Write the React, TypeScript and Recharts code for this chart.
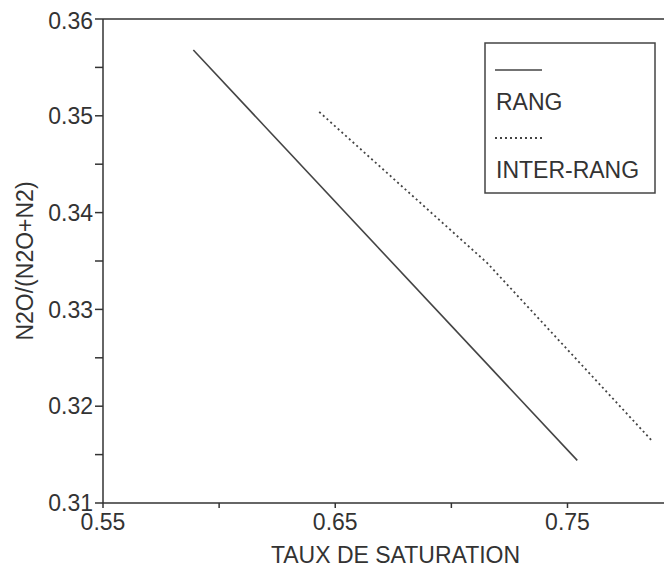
import { LineChart, Line, XAxis, YAxis, ReferenceLine, Legend } from "recharts";

const rang = [
  { x: 0.5889, y: 0.3568 },
  { x: 0.7542, y: 0.3144 },
];

const interRang = [
  { x: 0.6431, y: 0.3504 },
  { x: 0.7154, y: 0.3348 },
  { x: 0.7861, y: 0.3165 },
];

const xTicks = [0.55, 0.6, 0.65, 0.7, 0.75];
const xLabels = ["0.55", "0.65", "0.75"];
const yTicks = [0.31, 0.315, 0.32, 0.325, 0.33, 0.335, 0.34, 0.345, 0.35, 0.355, 0.36];
const yLabels = ["0.31", "0.32", "0.33", "0.34", "0.35", "0.36"];

const FONT = "'Liberation Sans', Arial, sans-serif";
const INK = "#333";
const LINE = "#444";

const fmtX = (v: number) => {
  const s = v.toFixed(2);
  return xLabels.includes(s) ? s : "";
};
const fmtY = (v: number) => {
  const s = v.toFixed(3).replace(/0$/, "");
  return yLabels.includes(s) ? s : "";
};

const LegendBox = () => (
  <svg width={172} height={152} style={{ display: "block" }}>
    <rect x={1} y={1} width={170} height={150} fill="#fff" stroke={LINE} strokeWidth={1.5} />
    <line x1={11} x2={58} y1={28} y2={28} stroke={LINE} strokeWidth={1.5} />
    <text x={12} y={68} fontSize={23} fill={INK} fontFamily={FONT}>RANG</text>
    <line x1={11} x2={58} y1={96} y2={96} stroke={LINE} strokeWidth={1.8} strokeDasharray="2 3" />
    <text x={12} y={136} fontSize={23} fill={INK} fontFamily={FONT}>INTER-RANG</text>
  </svg>
);

export default function App() {
  return (
    <LineChart width={664} height={559} margin={{ top: 11, right: 0, left: 0, bottom: 0 }}>
      <XAxis
        type="number"
        dataKey="x"
        domain={[0.55, 0.795]}
        ticks={xTicks}
        tickFormatter={fmtX}
        allowDataOverflow
        height={64}
        tickSize={5}
        tickMargin={6}
        stroke={INK}
        strokeWidth={1.5}
        tick={{ fill: INK, fontSize: 23, fontFamily: FONT }}
        label={{ value: "TAUX DE SATURATION", position: "insideBottom", offset: 4, fill: INK, fontSize: 23, fontFamily: FONT, dx: 8 }}
      />
      <YAxis
        type="number"
        dataKey="y"
        domain={[0.31, 0.36]}
        ticks={yTicks}
        tickFormatter={fmtY}
        allowDataOverflow
        width={95}
        tickSize={8}
        tickMargin={2}
        stroke={INK}
        strokeWidth={1.5}
        tick={{ fill: INK, fontSize: 23, fontFamily: FONT }}
        label={{
          content: (props: any) => {
            const vb = props.viewBox;
            const cx = 17;
            const cy = vb.y + vb.height / 2;
            return (
              <text
                x={cx}
                y={cy}
                transform={`rotate(-90 ${cx} ${cy})`}
                textAnchor="middle"
                dominantBaseline="central"
                fontSize={23}
                fill={INK}
                fontFamily={FONT}
              >
                N2O/(N2O+N2)
              </text>
            );
          },
        }}
      />
      <ReferenceLine y={0.36} stroke={INK} strokeWidth={1.5} />
      <Legend
        layout="vertical"
        align="center"
        verticalAlign="middle"
        content={() => <LegendBox />}
        wrapperStyle={{ left: 476, top: 34, width: 172, height: 152 }}
      />
      <Line
        data={rang}
        dataKey="y"
        name="RANG"
        stroke={LINE}
        strokeWidth={1.6}
        dot={false}
        isAnimationActive={false}
      />
      <Line
        data={interRang}
        dataKey="y"
        name="INTER-RANG"
        stroke={LINE}
        strokeWidth={1.8}
        strokeDasharray="2 3"
        dot={false}
        isAnimationActive={false}
      />
    </LineChart>
  );
}
